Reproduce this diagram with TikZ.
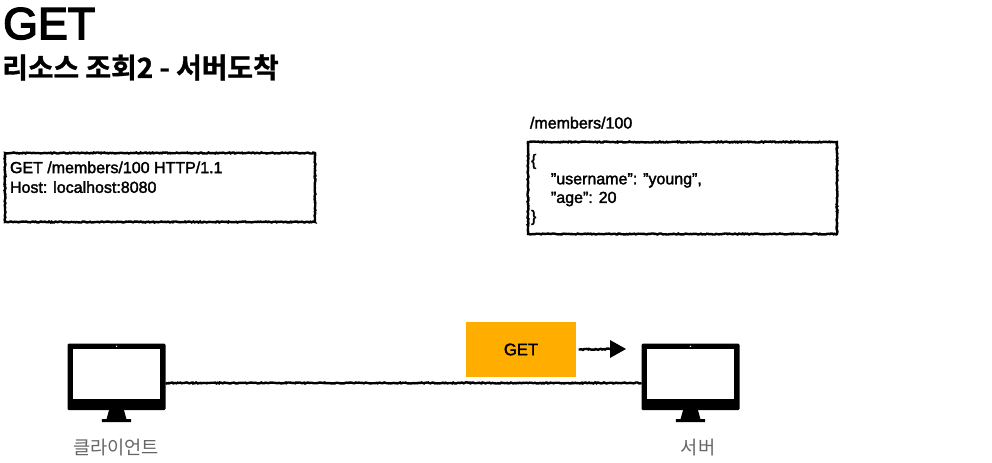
\documentclass[tikz,border=0pt]{standalone}
\usepackage{fontspec}
\usetikzlibrary{decorations.pathmorphing,arrows.meta,calc}
\setmainfont{Liberation Sans}[FakeBold=2]
\newfontfamily\titlefont{Liberation Sans}[FakeBold=3.5]
\newfontfamily\cjkbold{Noto Sans CJK KR Bold}[FakeBold=1.2]
\newfontfamily\cjkreg{Noto Sans CJK KR}
\definecolor{getorange}{HTML}{FFAE00}
\definecolor{labelgray}{HTML}{666666}
\pgfmathsetseed{7}
\tikzset{
  x=0.75pt,y=-0.75pt,
  rough/.style={decorate,decoration={random steps,segment length=1pt,amplitude=0.4pt}},
  sketchbox/.style={draw=black,line width=1.8pt,rough,inner sep=0,outer sep=0,anchor=north west},
  sketchline/.style={draw=black,line width=1.8pt,rough},
  bodytext/.style={inner sep=0,outer sep=0,anchor=north west,align=left,font=\fontsize{12pt}{14pt}\selectfont},
  monitor/.style={fill=black,rounded corners=1pt,inner sep=0,outer sep=0,minimum width=73.5pt,minimum height=50pt,anchor=north west},
  monlabel/.style={inner sep=0,text=labelgray,font=\fontsize{14pt}{16pt}\cjkreg},
}
\newcommand{\monitorparts}[1]{%
  \fill[white] ($(#1.north west)+(4.2pt,-4.3pt)$) rectangle ($(#1.south east)+(-4.2pt,8.2pt)$);
  \fill[white] ($(#1.north)+(0,-2.1pt)$) circle (0.6pt);
  \fill[black] ($(#1.south)+(-5.6pt,0)$) -- ($(#1.south)+(5.6pt,0)$) -- ($(#1.south)+(7.5pt,-6.8pt)$) --
     ($(#1.south)+(11pt,-6.8pt)$) -- ($(#1.south)+(11pt,-9pt)$) -- ($(#1.south)+(-11pt,-9pt)$) --
     ($(#1.south)+(-11pt,-6.8pt)$) -- ($(#1.south)+(-7.5pt,-6.8pt)$) -- cycle;
}
\begin{document}
\begin{tikzpicture}
\useasboundingbox (0,0) rectangle (992,463);
\node[anchor=base west,inner sep=0,font=\fontsize{33.5pt}{36pt}\titlefont] (title) at (3,39) {GET};
\node[anchor=base west,inner sep=0,font=\fontsize{20.9pt}{22pt}\cjkbold] (subtitle) at (2,78) {리소스 조회2 - 서버도착};

\node[sketchbox,minimum width=232.5pt,minimum height=51.75pt] (req) at (5,153) {};
\node[bodytext] (reqtext) at (10,161.5) {GET /members/100 HTTP/1.1\\[0.8pt]Host: localhost:8080};

\node[bodytext,anchor=base west] (path) at (530,128.5) {/members/100};
\node[sketchbox,minimum width=231.75pt,minimum height=69pt] (res) at (528,142) {};
\node[bodytext] (restext) at (531,154) {\{\\\hspace*{15pt}\symbol{34}username\symbol{34}: \symbol{34}young\symbol{34},\\\hspace*{15pt}\symbol{34}age\symbol{34}: 20\\\}};

\node[monitor] (client) at (67.5,343.5) {};
\monitorparts{client}
\node[monitor] (server) at (641.5,343.5) {};
\monitorparts{server}
\node[monlabel] (clientlabel) at (116,447.5) {클라이언트};
\node[monlabel] (serverlabel) at (698,447.5) {서버};

\draw[sketchline] ([yshift=-4.6pt]client.east) -- ([yshift=-4.6pt]server.west);

\node[fill=getorange,inner sep=0,outer sep=0,minimum width=82.5pt,minimum height=41.25pt,anchor=north west,font=\fontsize{12.5pt}{14pt}\selectfont] (get) at (466,322) {GET};
\coordinate (arrowend) at (610,349);
\draw[sketchline] ([xshift=2pt]get.east) -- (arrowend);
\fill[black] (arrowend) ++(0,-9) -- (626,349) -- (610,358) -- cycle;
\end{tikzpicture}
\end{document}
